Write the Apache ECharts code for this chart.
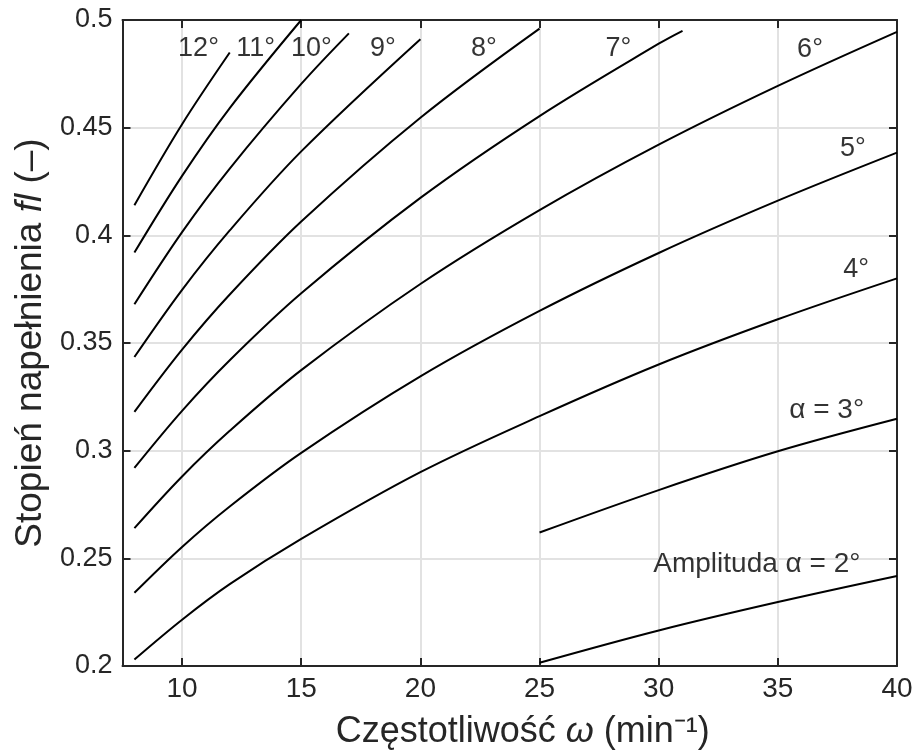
<!DOCTYPE html>
<html><head><meta charset="utf-8">
<script src="https://cdn.jsdelivr.net/npm/echarts@6/dist/echarts.min.js"></script>
<style>html,body{margin:0;padding:0;background:#fff}#c{width:916px;height:755px}</style>
</head><body><div id="c"></div>
<script>
// ---- data ----
const xTicks = [10, 15, 20, 25, 30, 35, 40];
const yTicks = [0.2, 0.25, 0.3, 0.35, 0.4, 0.45, 0.5];

const wFull = [8, 10, 12, 15, 20, 25, 30, 35, 40];
const w7    = [8, 10, 12, 15, 20, 25, 30, 31];
const w8    = [8, 10, 12, 15, 20, 25];
const w9    = [8, 10, 12, 15, 20];
const w10   = [8, 10, 12, 15, 17];
const w11   = [8, 10, 12, 15];
const w12   = [8, 10, 12];
const wLow  = [25, 30, 35, 40];

const fl2  = [0.2015, 0.2165, 0.2297, 0.2418];
const fl3  = [0.262, 0.2817, 0.2997, 0.3148];
const fl4  = [0.203, 0.2215, 0.238, 0.259, 0.290, 0.316, 0.340, 0.361, 0.380];
const fl5  = [0.234, 0.2553, 0.2741, 0.2990, 0.3345, 0.3649, 0.3918, 0.4161, 0.4384];
const fl6  = [0.264, 0.2880, 0.3092, 0.3374, 0.3774, 0.4117, 0.4421, 0.4694, 0.4945];
const fl7  = [0.292, 0.3185, 0.3420, 0.3731, 0.4174, 0.4554, 0.4890, 0.4950];
const fl8  = [0.318, 0.3469, 0.3725, 0.4064, 0.4546, 0.4960];
const fl9  = [0.3435, 0.3747, 0.4023, 0.4390, 0.4911];
const fl10 = [0.368, 0.4015, 0.4310, 0.4703, 0.4938];
const fl11 = [0.392, 0.4276, 0.4591, 0.5000];
const fl12 = [0.414, 0.4516, 0.4849];

const curveNames = ['2°','3°','4°','5°','6°','7°','8°','9°','10°','11°','12°'];
const curveX = [wLow, wLow, wFull, wFull, wFull, w7, w8, w9, w10, w11, w12];
const curveY = [fl2, fl3, fl4, fl5, fl6, fl7, fl8, fl9, fl10, fl11, fl12];

// curve annotations (text, anchored in data coordinates)
const noteText = ['12°', '11°', '10°', '9°', '8°', '7°', '6°', '5°', '4°', 'α = 3°', 'Amplituda α = 2°'];
const noteX = [10.69, 13.09, 15.43, 18.43, 22.67, 28.31, 36.35, 38.15, 38.29, 37.05, 34.12];
const noteY = [0.4868, 0.4868, 0.4868, 0.4868, 0.4868, 0.4868, 0.4865, 0.4404, 0.384, 0.3188, 0.2472];
const noteSize = [27, 27, 27, 27, 27, 27, 27, 27, 27, 28, 28];

// ---- chart ----
const FONT = '"Liberation Sans", Arial, Helvetica, sans-serif';
const AX = '#262626';
const chart = echarts.init(document.getElementById('c'), null, {renderer: 'canvas'});

const series = curveNames.map((n, i) => ({
  name: n, type: 'line', xAxisIndex: 0, yAxisIndex: 0,
  data: curveX[i].map((x, k) => [x, curveY[i][k]]),
  showSymbol: false, symbol: 'none', smooth: 0.35,
  lineStyle: {color: '#000', width: 2}, silent: true, z: 5
}));
series.push({
  type: 'scatter', xAxisIndex: 0, yAxisIndex: 0, symbolSize: 0, silent: true, z: 6,
  data: noteText.map((t, i) => ({value: [noteX[i], noteY[i]], name: t,
    label: {fontSize: noteSize[i]}})),
  label: {show: true, position: 'inside', formatter: p => p.name,
          fontFamily: FONT, fontSize: 27, color: '#000'}
});

chart.setOption({
  animation: false,
  backgroundColor: '#fff',
  grid: {left: 122.5, right: 19, top: 20, bottom: 88, containLabel: false},
  xAxis: [{
    type: 'value', min: 7.5, max: 40, position: 'bottom',
    axisLine: {show: true, onZero: false, lineStyle: {color: AX, width: 2}},
    axisTick: {show: true, inside: true, length: 8, customValues: xTicks, lineStyle: {color: AX, width: 2}},
    axisLabel: {show: true, customValues: xTicks, fontFamily: FONT, fontSize: 28, color: AX, margin: 9},
    splitLine: {show: true, lineStyle: {color: '#e2e2e2', width: 2}},
    name: 'Częstotliwość {i|ω} (min⁻¹)', nameLocation: 'middle', nameGap: 48,
    nameTextStyle: {fontFamily: FONT, fontSize: 36, color: AX, padding: [0, 0, 0, 26],
      rich: {i: {fontFamily: FONT, fontSize: 36, fontStyle: 'italic', color: AX}}}
  }, {
    type: 'value', min: 7.5, max: 40, position: 'top',
    axisLine: {show: true, onZero: false, lineStyle: {color: AX, width: 2}},
    axisTick: {show: true, inside: true, length: 8, customValues: xTicks, lineStyle: {color: AX, width: 2}},
    axisLabel: {show: false}, splitLine: {show: false}
  }],
  yAxis: [{
    type: 'value', min: 0.2, max: 0.5, interval: 0.05, position: 'left',
    axisLine: {show: true, onZero: false, lineStyle: {color: AX, width: 2}},
    axisTick: {show: true, inside: true, length: 8, lineStyle: {color: AX, width: 2}},
    axisLabel: {show: true, fontFamily: FONT, fontSize: 27, color: AX, margin: 10,
      formatter: v => String(+v.toFixed(2))},
    splitLine: {show: true, lineStyle: {color: '#e2e2e2', width: 2}},
    name: 'Stopień napełnienia {i|fl} (–)', nameLocation: 'middle', nameGap: 72,
    nameTextStyle: {fontFamily: FONT, fontSize: 37, color: AX,
      rich: {i: {fontFamily: FONT, fontSize: 37, fontStyle: 'italic', color: AX}}}
  }, {
    type: 'value', min: 0.2, max: 0.5, interval: 0.05, position: 'right',
    axisLine: {show: true, onZero: false, lineStyle: {color: AX, width: 2}},
    axisTick: {show: true, inside: true, length: 8, lineStyle: {color: AX, width: 2}},
    axisLabel: {show: false}, splitLine: {show: false}
  }],
  series: series
});
</script></body></html>
